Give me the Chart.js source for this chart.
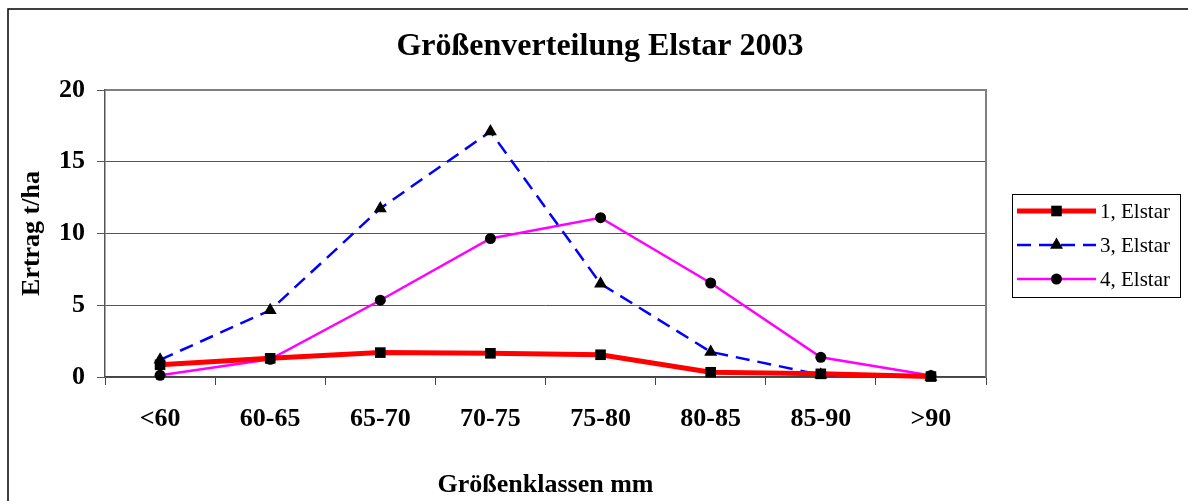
<!DOCTYPE html>
<html>
<head>
<meta charset="utf-8">
<script src="https://cdn.jsdelivr.net/npm/chart.js@4/dist/chart.umd.min.js"></script>
<style>
  body { margin: 0; background: #fff; }
  #wrap { width: 1188px; height: 501px; }
</style>
</head>
<body>
<div id="wrap"><canvas id="chartcontainer" width="1188" height="501"></canvas></div>
<script>
// size classes (mm)
const categories = ["<60", "60-65", "65-70", "70-75", "75-80", "80-85", "85-90", ">90"];
// yield t/ha per series
const elstar1 = [0.85, 1.3, 1.7, 1.65, 1.55, 0.33, 0.22, 0.03];
const elstar3 = [1.2, 4.65, 11.75, 17.1, 6.5, 1.75, 0.15, 0.0];
const elstar4 = [0.12, 1.23, 5.35, 9.65, 11.1, 6.55, 1.37, 0.1];
const seriesLabels = ["1, Elstar", "3, Elstar", "4, Elstar"];

const titleText = "Größenverteilung Elstar 2003";
const xTitle = "Größenklassen mm";
const yTitle = "Ertrag t/ha";

const serif = "'Liberation Serif', 'Times New Roman', serif";

// frame, title, plot border and legend
const decorPlugin = {
    id: "decor",
    beforeDraw(chart) {
        const ctx = chart.ctx;
        ctx.save();
        ctx.fillStyle = "#fff";
        ctx.fillRect(0, 0, chart.width, chart.height);
        ctx.strokeStyle = "#000";
        ctx.lineWidth = 1.5;
        ctx.strokeRect(8, 9, 1300, 700);
        ctx.restore();
    },
    afterDraw(chart) {
        const ctx = chart.ctx;
        const a = chart.chartArea;
        ctx.save();
        // plot border top / right
        ctx.strokeStyle = "#808080";
        ctx.lineWidth = 2;
        ctx.beginPath();
        ctx.moveTo(a.left, a.top);
        ctx.lineTo(a.right, a.top);
        ctx.lineTo(a.right, a.bottom);
        ctx.stroke();

        // title
        ctx.fillStyle = "#000";
        ctx.font = "bold 32px " + serif;
        ctx.textAlign = "center";
        ctx.textBaseline = "middle";
        ctx.fillText(titleText, 600, 47);

        // legend
        ctx.strokeStyle = "#000";
        ctx.lineWidth = 1;
        ctx.strokeRect(1012.5, 194.5, 168, 103);
        const rows = [211, 245, 279];
        chart.data.datasets.forEach((ds, i) => {
            const y = rows[i];
            ctx.save();
            ctx.strokeStyle = ds.borderColor;
            ctx.lineWidth = ds.borderWidth;
            ctx.setLineDash(ds.borderDash || []);
            ctx.beginPath();
            ctx.moveTo(1017, y);
            ctx.lineTo(1096, y);
            ctx.stroke();
            ctx.restore();
            ctx.fillStyle = "#000";
            const cx = 1056.5;
            const r = ds.pointRadius;
            ctx.beginPath();
            if (ds.pointStyle === "rect") {
                const s = r * Math.SQRT1_2;
                ctx.rect(cx - s, y - s, 2 * s, 2 * s);
            } else if (ds.pointStyle === "triangle") {
                ctx.moveTo(cx, y - r);
                ctx.lineTo(cx + r * 0.866, y + r * 0.5);
                ctx.lineTo(cx - r * 0.866, y + r * 0.5);
                ctx.closePath();
            } else {
                ctx.arc(cx, y, r, 0, Math.PI * 2);
            }
            ctx.fill();
            ctx.font = "21px " + serif;
            ctx.textAlign = "left";
            ctx.textBaseline = "middle";
            ctx.fillText(ds.label, 1100, y + 1);
        });
        ctx.restore();
    }
};

const options = {
    type: "line",
    data: {
        labels: categories,
        datasets: [
            {
                label: seriesLabels[0],
                data: elstar1,
                borderColor: "#ff0000",
                borderWidth: 5,
                pointStyle: "rect",
                pointRadius: 7.5,
                pointBackgroundColor: "#000",
                pointBorderColor: "#000",
                pointBorderWidth: 0,
                tension: 0,
                fill: false,
            },
            {
                label: seriesLabels[1],
                data: elstar3,
                borderColor: "#0000ff",
                borderWidth: 2.5,
                borderDash: [14, 8],
                pointStyle: "triangle",
                pointRadius: 7.5,
                pointBackgroundColor: "#000",
                pointBorderColor: "#000",
                pointBorderWidth: 0,
                tension: 0,
                fill: false,
            },
            {
                label: seriesLabels[2],
                data: elstar4,
                borderColor: "#ff00ff",
                borderWidth: 2.5,
                pointStyle: "circle",
                pointRadius: 5.5,
                pointBackgroundColor: "#000",
                pointBorderColor: "#000",
                pointBorderWidth: 0,
                tension: 0,
                fill: false,
            },
        ],
    },
    options: {
        responsive: false,
        animation: false,
        clip: false,
        layout: {
            padding: { left: 0, right: 202, top: 90, bottom: 0 },
        },
        scales: {
            x: {
                offset: true,
                afterFit: (scale) => { scale.height = 124; },
                grid: {
                    offset: true,
                    drawOnChartArea: false,
                    drawTicks: true,
                    tickLength: 8,
                    color: "#444",
                },
                border: { color: "#444", width: 1.5 },
                ticks: {
                    color: "#000",
                    padding: 19,
                    maxRotation: 0,
                    font: { family: serif, size: 26, weight: "bold" },
                },
                title: {
                    display: true,
                    text: xTitle,
                    color: "#000",
                    padding: { top: 0, bottom: 0 },
                    font: { family: serif, size: 26, weight: "bold" },
                },
            },
            y: {
                min: 0,
                max: 20,
                afterFit: (scale) => { scale.width = 105; },
                grid: {
                    color: "#555",
                    lineWidth: 1,
                    tickLength: 8,
                },
                border: { color: "#555", width: 1.5 },
                ticks: {
                    stepSize: 5,
                    color: "#000",
                    padding: 12,
                    font: { family: serif, size: 26, weight: "bold" },
                },
                title: {
                    display: true,
                    text: yTitle,
                    color: "#000",
                    padding: { top: 17, bottom: 0 },
                    font: { family: serif, size: 26, weight: "bold" },
                },
            },
        },
        plugins: {
            legend: { display: false },
            tooltip: { enabled: false },
        },
    },
    plugins: [decorPlugin],
};
const ctx = document.getElementById("chartcontainer").getContext("2d");
const chart = new Chart(ctx, options);
</script>
</body>
</html>
